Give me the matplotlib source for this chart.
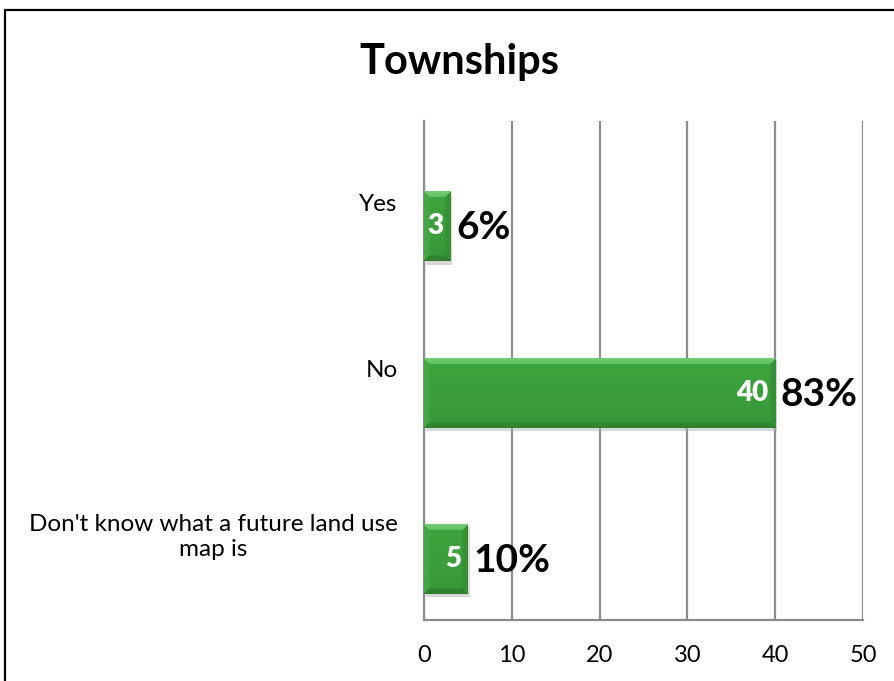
import numpy as np
import matplotlib
matplotlib.use("Agg")
import matplotlib.pyplot as plt
from matplotlib.patches import Rectangle
import matplotlib.patheffects as pe

# ---- data -------------------------------------------------------------
title = "Townships"
categories = ["Yes", "No", "Don't know what a future land use\nmap is"]
counts = [3, 40, 5]
percent_labels = ["6%", "83%", "10%"]
x_ticks = [0, 10, 20, 30, 40, 50]

# ---- style ------------------------------------------------------------
FONT = ["Lato", "DejaVu Sans"]
plt.rcParams["font.family"] = FONT
GRID = "#8c8c8c"
BASE = np.array([0.235, 0.627, 0.235])
TOP = np.array([0.45, 0.80, 0.45])
BOTTOM = np.array([0.19, 0.50, 0.19])
LEFT = np.array([0.27, 0.66, 0.27])
RIGHT = np.array([0.21, 0.56, 0.21])

W, H = 894, 681
fig = plt.figure(figsize=(W / 100, H / 100), dpi=100)

# outer chart frame
fig.patches.append(Rectangle((5 / W, -0.2), 1.2, 1.2 - 9.5 / H,
                             transform=fig.transFigure, fill=False,
                             edgecolor="black", linewidth=1.6))

ax = fig.add_axes([424 / W, 1 - 620 / H, (863 - 424) / W, (620 - 121) / H])
ax.set_xlim(x_ticks[0], x_ticks[-1])
ax.set_ylim(len(categories) - 0.5, -0.5)

bar_h = 0.42
bar_off = 0.133


def bevel(w_px, h_px, edge=6):
    """Soft bevelled fill: lighter top face, darker bottom face."""
    w_px, h_px = max(int(round(w_px)), 2), max(int(round(h_px)), 2)
    ii, jj = np.mgrid[0:h_px, 0:w_px]
    d = np.stack([ii.astype(float), h_px - 1 - ii, jj.astype(float), w_px - 1 - jj])
    face = np.argmin(d, axis=0)
    dmin = np.min(d, axis=0)
    img = np.empty((h_px, w_px, 3))
    shade = 1.03 - 0.08 * (ii / h_px)
    img[:] = BASE[None, None, :] * shade[..., None]
    inb = dmin < edge
    t = np.clip(dmin / edge, 0, 1)[..., None]
    for k, c in enumerate([TOP, BOTTOM, LEFT, RIGHT]):
        m = inb & (face == k)
        mix = c[None, None, :] * (1 - 0.35 * t) + img * 0.35 * t
        img[m] = mix[m]
    return np.clip(img, 0, 1)


px_x = ax.transData.transform((1, 0))[0] - ax.transData.transform((0, 0))[0]
px_y = abs(ax.transData.transform((0, 1))[1] - ax.transData.transform((0, 0))[1])

for i, v in enumerate(counts):
    yc = i + bar_off
    rect = ax.barh(yc, v, height=bar_h, color=BASE, zorder=3,
                   path_effects=[pe.SimplePatchShadow(offset=(1.5, -2.5), shadow_rgbFace="#b0b0b0", alpha=0.5),
                                 pe.Normal()])[0]
    im = ax.imshow(bevel(v * px_x, bar_h * px_y), extent=(0, v, yc + bar_h / 2, yc - bar_h / 2),
                   origin="upper", aspect="auto", interpolation="bilinear", zorder=4)
    im.set_clip_path(rect)
    ax.annotate(str(v), (v, yc), xytext=(-5, 0), textcoords="offset points",
                ha="right", va="center", color="white", fontsize=20, fontweight="heavy", zorder=5)
    ax.annotate(percent_labels[i], (v, yc), xytext=(4, -1), textcoords="offset points",
                ha="left", va="center", color="black", fontsize=28, fontweight="bold", zorder=5)

ax.set_xlim(x_ticks[0], x_ticks[-1])
ax.set_ylim(len(categories) - 0.5, -0.5)

ax.set_xticks(x_ticks)
ax.set_xticklabels([str(t) for t in x_ticks])
ax.set_yticks(range(len(categories)))
ax.set_yticklabels([])
ax.tick_params(axis="x", length=0, pad=18, labelsize=17)
ax.tick_params(axis="y", length=0)

# category labels, centred line by line and right-aligned to the axis
for i, cat in enumerate(categories):
    ax.annotate(cat, xy=(0, i), xycoords=("axes fraction", "data"),
                xytext=(-19, 0), textcoords="offset points",
                ha="right", va="center", multialignment="center",
                fontsize=17.5, annotation_clip=False)

ax.grid(axis="x", color=GRID, linewidth=1.6, zorder=0)
ax.set_axisbelow(True)
for s in ["top", "right"]:
    ax.spines[s].set_visible(False)
for s in ["left", "bottom"]:
    ax.spines[s].set_color(GRID)
    ax.spines[s].set_linewidth(1.6)

fig.text(459 / W, 1 - 74 / H, title, ha="center", va="baseline",
         fontsize=30, fontweight="bold")

fig.savefig("out.png", dpi=100)
